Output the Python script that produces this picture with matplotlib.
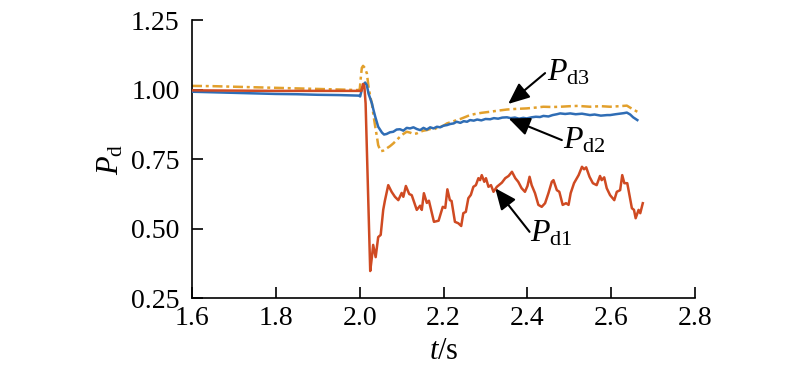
import matplotlib
matplotlib.use("Agg")
import matplotlib.pyplot as plt

plt.rcParams['font.family'] = ['Liberation Serif', 'DejaVu Serif']
plt.rcParams['mathtext.fontset'] = 'custom'
plt.rcParams['mathtext.rm'] = 'Liberation Serif'
plt.rcParams['mathtext.it'] = 'Liberation Serif:italic'

# ---- data ----
t_d1 = [1.600, 1.700, 1.800, 1.900, 2.000, 2.004, 2.008, 2.011, 2.014, 2.025, 2.029, 2.032, 2.038,
        2.044, 2.050, 2.056, 2.060, 2.068, 2.076, 2.084, 2.092, 2.100, 2.104, 2.110, 2.118, 2.124,
        2.136, 2.144, 2.148, 2.153, 2.160, 2.165, 2.177, 2.188, 2.198, 2.204, 2.209, 2.215, 2.219,
        2.227, 2.235, 2.242, 2.247, 2.253, 2.259, 2.265, 2.271, 2.277, 2.283, 2.287, 2.291, 2.297,
        2.301, 2.307, 2.313, 2.319, 2.327, 2.339, 2.347, 2.355, 2.363, 2.371, 2.378, 2.386, 2.394,
        2.400, 2.405, 2.410, 2.418, 2.426, 2.434, 2.442, 2.450, 2.458, 2.462, 2.470, 2.476, 2.484,
        2.492, 2.498, 2.503, 2.511, 2.522, 2.530, 2.535, 2.540, 2.548, 2.556, 2.565, 2.573, 2.577,
        2.583, 2.589, 2.597, 2.607, 2.613, 2.621, 2.626, 2.631, 2.638, 2.649, 2.654, 2.658, 2.665,
        2.669, 2.675]
p_d1 = [0.997, 0.996, 0.995, 0.995, 0.995, 0.995, 1.020, 1.012, 0.950, 0.347, 0.397, 0.441, 0.397,
        0.469, 0.477, 0.567, 0.600, 0.656, 0.632, 0.614, 0.602, 0.628, 0.614, 0.653, 0.624, 0.620,
        0.567, 0.582, 0.567, 0.627, 0.592, 0.600, 0.524, 0.528, 0.578, 0.574, 0.641, 0.602, 0.599,
        0.524, 0.519, 0.509, 0.555, 0.560, 0.609, 0.621, 0.650, 0.656, 0.681, 0.674, 0.692, 0.668,
        0.681, 0.650, 0.656, 0.632, 0.650, 0.665, 0.681, 0.689, 0.704, 0.681, 0.668, 0.645, 0.632,
        0.653, 0.686, 0.656, 0.627, 0.585, 0.578, 0.591, 0.627, 0.668, 0.674, 0.638, 0.632, 0.585,
        0.591, 0.585, 0.627, 0.663, 0.692, 0.722, 0.713, 0.720, 0.686, 0.663, 0.656, 0.689, 0.674,
        0.684, 0.645, 0.620, 0.602, 0.632, 0.638, 0.692, 0.663, 0.663, 0.573, 0.567, 0.537, 0.567,
        0.555, 0.591]

t_d2 = [1.600, 1.650, 1.700, 1.750, 1.800, 1.850, 1.900, 1.950, 1.998, 2.001, 2.005, 2.010, 2.013,
        2.017, 2.021, 2.025, 2.029, 2.033, 2.037, 2.044, 2.053, 2.058, 2.064, 2.072, 2.080, 2.088,
        2.096, 2.104, 2.112, 2.120, 2.128, 2.136, 2.144, 2.152, 2.160, 2.168, 2.176, 2.184, 2.192,
        2.200, 2.208, 2.216, 2.224, 2.231, 2.240, 2.248, 2.256, 2.263, 2.272, 2.280, 2.290, 2.300,
        2.311, 2.320, 2.330, 2.340, 2.351, 2.360, 2.370, 2.380, 2.390, 2.398, 2.410, 2.420, 2.430,
        2.438, 2.450, 2.460, 2.470, 2.478, 2.490, 2.502, 2.515, 2.530, 2.549, 2.560, 2.575, 2.590,
        2.597, 2.610, 2.620, 2.630, 2.637, 2.645, 2.652, 2.662]
p_d2 = [0.992, 0.990, 0.988, 0.986, 0.984, 0.983, 0.981, 0.980, 0.978, 0.975, 1.000, 1.020, 1.025,
        1.015, 0.985, 0.968, 0.950, 0.925, 0.902, 0.866, 0.845, 0.838, 0.840, 0.846, 0.848, 0.856,
        0.857, 0.852, 0.862, 0.860, 0.864, 0.858, 0.854, 0.862, 0.856, 0.864, 0.860, 0.866, 0.864,
        0.870, 0.872, 0.876, 0.878, 0.884, 0.880, 0.886, 0.884, 0.890, 0.888, 0.892, 0.889, 0.894,
        0.893, 0.897, 0.895, 0.899, 0.900, 0.897, 0.899, 0.895, 0.898, 0.896, 0.900, 0.902, 0.901,
        0.905, 0.903, 0.908, 0.911, 0.914, 0.912, 0.914, 0.911, 0.913, 0.908, 0.910, 0.906, 0.908,
        0.908, 0.911, 0.913, 0.915, 0.917, 0.910, 0.900, 0.890]

t_d3 = [1.600, 1.650, 1.700, 1.750, 1.800, 1.850, 1.900, 1.950, 1.995, 2.000, 2.003, 2.005, 2.008,
        2.012, 2.017, 2.021, 2.025, 2.029, 2.033, 2.037, 2.041, 2.044, 2.050, 2.056, 2.064, 2.072,
        2.080, 2.088, 2.096, 2.104, 2.112, 2.120, 2.128, 2.136, 2.144, 2.152, 2.160, 2.168, 2.176,
        2.184, 2.192, 2.200, 2.208, 2.216, 2.224, 2.231, 2.240, 2.250, 2.263, 2.275, 2.290, 2.311,
        2.330, 2.351, 2.370, 2.398, 2.420, 2.438, 2.460, 2.478, 2.502, 2.520, 2.549, 2.575, 2.597,
        2.620, 2.637, 2.650, 2.662]
p_d3 = [1.013, 1.012, 1.010, 1.008, 1.006, 1.004, 1.002, 1.000, 0.998, 1.000, 1.050, 1.078, 1.085,
        1.078, 1.058, 1.010, 0.975, 0.950, 0.905, 0.866, 0.830, 0.800, 0.778, 0.780, 0.788, 0.796,
        0.806, 0.818, 0.830, 0.840, 0.848, 0.845, 0.840, 0.842, 0.848, 0.852, 0.854, 0.858, 0.856,
        0.862, 0.866, 0.870, 0.878, 0.882, 0.886, 0.890, 0.894, 0.900, 0.908, 0.912, 0.916, 0.920,
        0.924, 0.928, 0.930, 0.932, 0.935, 0.938, 0.937, 0.938, 0.940, 0.941, 0.938, 0.940, 0.938,
        0.940, 0.942, 0.930, 0.920]

x_ticks = [1.6, 1.8, 2.0, 2.2, 2.4, 2.6, 2.8]
y_ticks = [0.25, 0.50, 0.75, 1.00, 1.25]

# ---- figure ----
fig = plt.figure(figsize=(8.0, 3.67), dpi=100)
ax = fig.add_axes([0.24, 0.188, 0.629, 0.7575])

ax.plot(t_d3, p_d3, color='#E2A02C', lw=1.8, dashes=(4, 1.5, 1.2, 1.5), zorder=2)
ax.plot(t_d2, p_d2, color='#2F6DB5', lw=1.8, ls='-', zorder=3)
ax.plot(t_d1, p_d1, color='#CF4A22', lw=1.8, ls='-', zorder=4)

ax.set_xlim(1.6, 2.8)
ax.set_ylim(0.25, 1.25)
ax.set_xticks(x_ticks)
ax.set_xticklabels([f"{v:.1f}" for v in x_ticks])
ax.set_yticks(y_ticks)
ax.set_yticklabels([f"{v:.2f}" for v in y_ticks])

for s in ['top', 'right']:
    ax.spines[s].set_visible(False)
for s in ['left', 'bottom']:
    ax.spines[s].set_linewidth(1.2)
ax.tick_params(axis='both', direction='in', length=8, width=1.2, labelsize=20)
ax.tick_params(axis='y', pad=9)
ax.tick_params(axis='x', pad=6)

ax.set_xlabel(r'$\mathit{t}/\mathrm{s}$', fontsize=22, labelpad=4)
ax.set_ylabel(r'$\mathit{P}_{\mathrm{d}}$', fontsize=22, labelpad=4)

arrow = dict(arrowstyle='-|>,head_length=0.65,head_width=0.28', color='black', lw=1.5,
             shrinkA=0, shrinkB=0, mutation_scale=20)
ax.annotate('', xy=(2.354, 0.948), xytext=(2.442, 1.059), arrowprops=arrow)
ax.annotate('', xy=(2.355, 0.896), xytext=(2.482, 0.818), arrowprops=arrow)
ax.annotate('', xy=(2.323, 0.645), xytext=(2.405, 0.488), arrowprops=arrow)

ax.text(2.446, 1.034, r'$\mathit{P}_{\mathrm{d3}}$', fontsize=23, ha='left', va='baseline')
ax.text(2.484, 0.788, r'$\mathit{P}_{\mathrm{d2}}$', fontsize=23, ha='left', va='baseline')
ax.text(2.406, 0.452, r'$\mathit{P}_{\mathrm{d1}}$', fontsize=23, ha='left', va='baseline')

fig.savefig('out.png', dpi=100)
